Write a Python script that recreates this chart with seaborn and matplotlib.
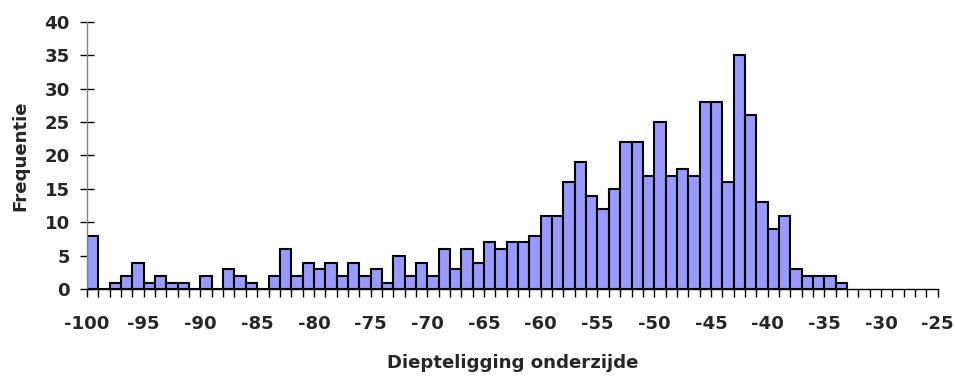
import numpy as np
import pandas as pd
import matplotlib
matplotlib.use('Agg')
import matplotlib.pyplot as plt
import seaborn as sns

# linker binrand (breedte 1) en frequentie
bin_links = list(range(-100, -33))
frequentie = [8, 0, 1, 2, 4, 1, 2, 1, 1, 0,
              2, 0, 3, 2, 1, 0, 2, 6, 2, 4,
              3, 4, 2, 4, 2, 3, 1, 5, 2, 4,
              2, 6, 3, 6, 4, 7, 6, 7, 7, 8,
              11, 11, 16, 19, 14, 12, 15, 22, 22, 17,
              25, 17, 18, 17, 28, 28, 16, 35, 26, 13,
              9, 11, 3, 2, 2, 2, 1]
x_labels = list(range(-100, -24, 5))
y_ticks = list(range(0, 41, 5))

sns.set_style('white')
plt.rcParams['font.family'] = ['DejaVu Sans']
plt.rcParams['font.weight'] = 'bold'
plt.rcParams['axes.unicode_minus'] = False

fig = plt.figure(figsize=(9.55, 3.76), dpi=100)
ax = fig.add_axes([0.0911, 0.2306, 0.982 - 0.0911, 0.9423 - 0.2306])

df = pd.DataFrame({'midden': np.array(bin_links) + 0.5, 'freq': frequentie})
sns.histplot(data=df, x='midden', weights='freq', binwidth=1, binrange=(-100, -33),
             color='#9999FF', edgecolor='black', linewidth=1.5, alpha=1,
             ax=ax)

ax.set_xlim(-100, -25)
ax.set_ylim(0, 40)
ax.set_xticks(x_labels)
ax.set_xticks(np.arange(-100, -24), minor=True)
ax.set_yticks(y_ticks)

ax.tick_params(axis='x', which='both', direction='out', length=6, width=1,
               color='black', bottom=True, labelsize=13.1, pad=12.5)
ax.tick_params(axis='y', which='major', direction='inout', length=10.5, width=1,
               color='black', left=True, labelsize=13.1, pad=7)
for lab in ax.get_xticklabels() + ax.get_yticklabels():
    lab.set_fontweight('bold')

for s in ['top', 'right']:
    ax.spines[s].set_visible(False)
ax.spines['left'].set_color('#808080')
ax.spines['left'].set_linewidth(1)
ax.spines['bottom'].set_color('black')
ax.spines['bottom'].set_linewidth(1)
ax.grid(False)

ax.set_xlabel('Diepteligging onderzijde', fontsize=13.1, fontweight='bold', labelpad=15)
ax.set_ylabel('Frequentie', fontsize=13.1, fontweight='bold', labelpad=11)

fig.savefig('out.png', dpi=100)
